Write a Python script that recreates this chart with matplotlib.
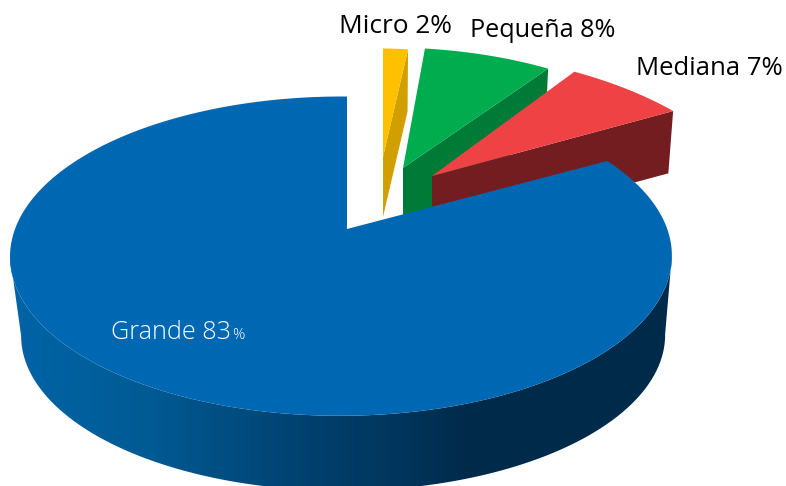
import numpy as np
import matplotlib
matplotlib.use("Agg")
import matplotlib.pyplot as plt
from matplotlib.patches import Polygon
from matplotlib.colors import LinearSegmentedColormap

# Data (clockwise from 12 o'clock)
names = ["Micro", "Pequeña", "Mediana", "Grande"]
values = [2, 8, 7, 83]

# Style
top_colors = ["#FFC000", "#00AC4E", "#EE4245", "#0068B3"]
wall_colors = ["#D1A000", "#007A37", "#731D20"]
W, H = 786, 486
K, M_ = 0.17, 0.018           # perspective of the disc
# per-slice placement: apex x, y, x-scale, x-shear, y-scale, depth
placing = [(383, 157, 234, 0, 127, 60),
           (403, 168, 300, -12, 141, 60),
           (432, 176, 318, -29, 148, 61)]
big = (347, 229, 326, 0, 155, 80)
wall_shrink_big = 0.973
wall_shrink = 0.98
draw_order = [1, 0, 2]


def disc(t):
    X, Y = np.sin(t), np.cos(t)
    den = 1 + K * Y + M_ * X
    return X / den, Y / den


def face(t, p):
    u, v = disc(t)
    return p[0] + p[2] * u + p[3] * v, p[1] - p[4] * v


fig = plt.figure(figsize=(W / 100, H / 100), dpi=100)
ax = fig.add_axes([0, 0, 1, 1])
ax.set_xlim(0, W)
ax.set_ylim(H, 0)
ax.axis("off")

edges = np.cumsum([0] + values) / sum(values) * 2 * np.pi

# small exploded slices
for i in draw_order:
    p = placing[i]
    t = np.linspace(edges[i], edges[i + 1], 40)
    x, y = face(t, p)
    ex, ey = x[-1], y[-1]
    bx = p[0] + (ex - p[0]) * wall_shrink
    by = p[1] + (ey - p[1]) * wall_shrink + p[5]
    ax.add_patch(Polygon([(p[0], p[1]), (ex, ey), (bx, by), (p[0], p[1] + p[5])],
                         closed=True, fc=wall_colors[i], ec="none", zorder=2 + i))
    ax.add_patch(Polygon(np.r_[[[p[0], p[1]]], np.c_[x, y]], closed=True,
                         fc=top_colors[i], ec="none", zorder=2.5 + i))

# big slice: wall with horizontal shading, then face
t = np.linspace(edges[3], edges[4], 600)
x, y = face(t, big)
xb = big[0] + (x - big[0]) * wall_shrink_big + 2
yb = big[1] + (y - big[1]) * wall_shrink_big + big[5]
iL, iR = np.argmin(x), np.argmax(x)
ti = np.arange(min(iR, iL), max(iR, iL) + 1)
wall = np.r_[np.c_[x[ti], y[ti]], np.c_[xb[ti], yb[ti]][::-1]]
stops = [(0, "#0063A6"), (20, "#0063A6"), (90, "#005F9C"), (150, "#005A93"),
         (250, "#004A7C"), (320, "#003F6C"), (400, "#00365C"), (470, "#002A4A"),
         (W, "#002A4A")]
cmap = LinearSegmentedColormap.from_list("w", [(a / W, c) for a, c in stops])
im = ax.imshow(np.linspace(0, 1, 786)[None, :], extent=(0, W, H, 0), cmap=cmap,
               aspect="auto", zorder=6, vmin=0, vmax=1)
clip = Polygon(wall, closed=True, transform=ax.transData, fc="none", ec="none")
ax.add_patch(clip)
im.set_clip_path(clip)
ax.set_xlim(0, W)
ax.set_ylim(H, 0)
ax.add_patch(Polygon(np.r_[[[big[0], big[1]]], np.c_[x, y]], closed=True,
                     fc=top_colors[3], ec="none", zorder=7))

# labels
font = "Open Sans"
lab = [f"{n} {v}%" for n, v in zip(names, values)]
ax.text(339, 33, lab[0], family=font, fontsize=18.9, color="black", zorder=9)
ax.text(470, 37, lab[1], family=font, fontsize=18.2, color="black", zorder=9)
ax.text(636, 75, lab[2], family=font, fontsize=18.5, color="black", zorder=9)
ax.text(111, 338.5, f"{names[3]} {values[3]}", family=font, fontsize=18.1,
        color="white", weight="light", zorder=9)
ax.text(232, 338.5, "%", family=font, fontsize=11, color="white",
        weight="light", zorder=9)

fig.savefig("out.png", dpi=100)
